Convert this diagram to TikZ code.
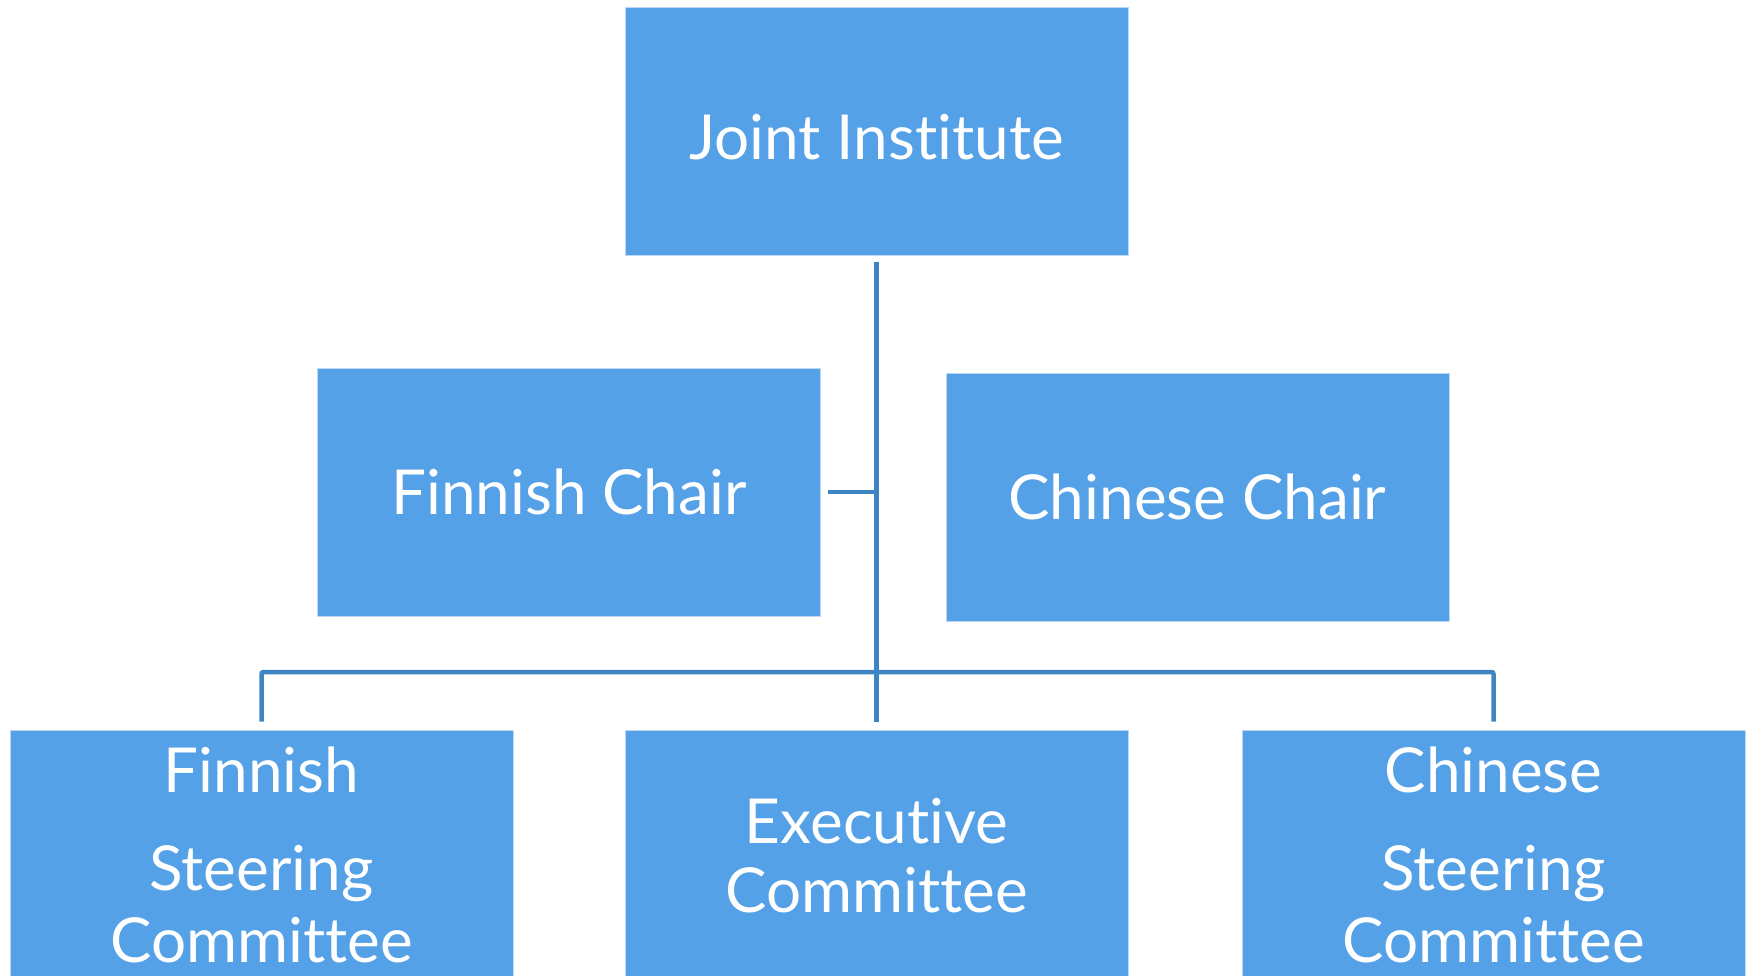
\documentclass[tikz,border=0pt]{standalone}
\usepackage{fontspec}
\setmainfont[Ligatures={NoCommon,NoContextual}]{Lato}
\definecolor{boxblue}{RGB}{84,161,232}
\definecolor{linkblue}{RGB}{62,133,195}
\begin{document}
\begin{tikzpicture}[x=1pt,y=-1pt,
  box/.style={fill=boxblue, draw=white!60!boxblue, line width=0.8pt, minimum width=503pt, minimum height=248pt, inner sep=0pt, text=white, font=\fontsize{62}{72}\selectfont},
  lbl/.style={text=white, inner sep=0pt, anchor=base, font=\fontsize{62}{72}\selectfont},
  conn/.style={draw=linkblue, line width=4.5pt}]
\useasboundingbox (0,0) rectangle (1748,976);
\clip (0,0) rectangle (1748,976);
% top
\node[box, text height=58pt, text depth=0pt] (ji) at (876.5,131) {Joint Institute};
% chairs
\node[box] (fc) at (569,492) {Finnish Chair};
\node[box] (cc) at (1197.5,497) {Chinese Chair};
% committees
\node[box, minimum height=300pt] (fs) at (261.5,880) {};
\node[box, minimum height=300pt] (ex) at (876.5,880) {};
\node[box, minimum height=300pt] (cs) at (1493.5,880) {};
\node[lbl] (fs1) at (261.5,792) {Finnish};
\node[lbl] (fs2) at (261.5,890) {Steering};
\node[lbl] (fs3) at (261.5,962) {Committee};
\node[lbl] (ex1) at (876.5,843) {Executive};
\node[lbl] (ex2) at (876.5,912) {Committee};
\node[lbl] (cs1) at (1493.5,792) {Chinese};
\node[lbl] (cs2) at (1493.5,890) {Steering};
\node[lbl] (cs3) at (1493.5,962) {Committee};
% connectors
\coordinate (bar) at (0,672);
\draw[conn, shorten <=7pt, shorten >=8pt] (ji.south) -- (ex.north);
\draw[conn, shorten <=7pt] (fc.east) -- (fc.east -| ji.south);
\draw[conn, shorten <=8pt, shorten >=8pt, rounded corners=2pt] (fs.north) -- (fs.north |- bar) -- (cs.north |- bar) -- (cs.north);
\end{tikzpicture}
\end{document}
